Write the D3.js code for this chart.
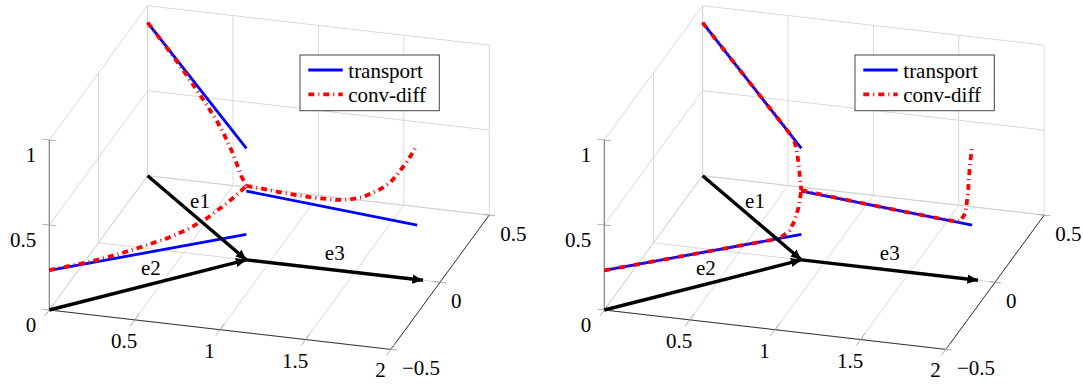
<!DOCTYPE html>
<html>
<head>
<meta charset="utf-8">
<script src="https://cdn.jsdelivr.net/npm/d3@7"></script>
<style>
  html, body { margin: 0; padding: 0; background: #fff; }
</style>
</head>
<body>
<svg id="chart" width="1083" height="386"></svg>
<script>
// axes
const xTicks = [0, 0.5, 1, 1.5, 2];
const yTicks = [-0.5, 0, 0.5];
const zTicks = [0, 0.5, 1];
const xTickLabels = ['', '0.5', '1', '1.5', '2'];
const yTickLabels = ['\u22120.5', '0', '0.5'];
const zTickLabels = ['0', '0.5', '1'];

// network edges, (x, y) on the floor
const edgeNames = ['e1', 'e2', 'e3'];
const edgeStart = [[0, 0.5], [0, -0.5], [0.866, 0]];
const edgeEnd = [[0.866, 0], [0.866, 0], [1.866, 0]];
const arrowEnd = [[0.866, 0], [0.866, 0], [1.9, 0]];

// [position along edge, value]
const transportE1 = [[0, 0.9], [1, 0.656]];
const transportE2 = [[0, 0.233], [1, 0.15]];
const transportE3 = [[0, 0.405], [1, 0.32]];

// conv-diff, left plot
const convLeftE1 = [[0, 0.9], [0.1, 0.875], [0.2, 0.848], [0.3, 0.818], [0.4, 0.785], [0.5, 0.75],
  [0.6, 0.712], [0.7, 0.67], [0.77, 0.63], [0.85, 0.57], [0.9, 0.52], [0.95, 0.467], [1, 0.435]];
const convLeftE2 = [[0, 0.235], [0.2, 0.223], [0.35, 0.225], [0.45, 0.232], [0.6, 0.246], [0.7, 0.267],
  [0.8, 0.304], [0.9, 0.362], [0.95, 0.397], [1, 0.435]];
const convLeftE3 = [[0, 0.435], [0.1, 0.43], [0.2, 0.421], [0.3, 0.415], [0.4, 0.412], [0.53, 0.414],
  [0.6, 0.425], [0.68, 0.447], [0.78, 0.504], [0.84, 0.55], [0.88, 0.6], [0.94, 0.686], [1, 0.79]];

// conv-diff, right plot
const convRightE1 = [[0, 0.9], [0.3, 0.827], [0.6, 0.754], [0.85, 0.693], [0.92, 0.672], [0.95, 0.63],
  [0.97, 0.56], [0.985, 0.48], [1, 0.41]];
const convRightE2 = [[0, 0.233], [0.3, 0.208], [0.6, 0.183], [0.85, 0.162], [0.9, 0.166], [0.94, 0.19],
  [0.965, 0.24], [0.985, 0.31], [1, 0.41]];
const convRightE3 = [[0, 0.41], [0.3, 0.38], [0.6, 0.354], [0.9, 0.33], [0.93, 0.335], [0.96, 0.385],
  [0.975, 0.5], [0.985, 0.65], [1, 0.79]];

const legendLabels = ['transport', 'conv-diff'];

const svg = d3.select('#chart');

const xs = d3.scaleLinear().domain([0, 2]).range([0, 1]);
const ys = d3.scaleLinear().domain([-0.5, 0.5]).range([0, 1]);
const zs = d3.scaleLinear().domain([0, 1]).range([0, 1]);
// screen vectors spanned by the full x, y and z ranges
const vx = [341.6, 39.4], vy = [98.3, -134.3], vz = [0, -170];

function projector(ox, oy) {
  return (x, y, z) => [
    ox + xs(x) * vx[0] + ys(y) * vy[0] + zs(z) * vz[0],
    oy + xs(x) * vx[1] + ys(y) * vy[1] + zs(z) * vz[1],
  ];
}

function alongEdge(i, s) {
  const a = edgeStart[i], b = edgeEnd[i];
  return [a[0] + s * (b[0] - a[0]), a[1] + s * (b[1] - a[1])];
}

const defs = svg.append('defs');
defs.append('marker')
  .attr('id', 'tip')
  .attr('markerUnits', 'userSpaceOnUse')
  .attr('viewBox', '0 -5 11 10')
  .attr('refX', 10.5).attr('refY', 0)
  .attr('markerWidth', 11).attr('markerHeight', 10)
  .attr('orient', 'auto')
  .append('path')
  .attr('d', 'M0,-4.6 L10.5,0 L0,4.6 Z')
  .attr('fill', '#000');

// texts are kept as pending items and written last, straight into the svg
const pending = [];
function label(x, y, anchor, str) {
  pending.push({ x, y, anchor, str });
}
function flushLabels() {
  pending.forEach(d => {
    const t = svg.append('text')
      .attr('x', d.x).attr('y', d.y + 7)
      .attr('style', `font-family:'Liberation Serif';font-size:21px`)
      .text(d.str);
    const w = t.node().getComputedTextLength();
    if (d.anchor === 'middle') t.attr('x', d.x - w / 2);
    if (d.anchor === 'end') t.attr('x', d.x - w);
  });
}

function drawPanel(ox, conv) {
  const P = projector(ox, 310);
  const g = svg.append('g');
  const seg = (a, b, color, w) => {
    const p = P(...a), q = P(...b);
    g.append('line')
      .attr('x1', p[0]).attr('y1', p[1]).attr('x2', q[0]).attr('y2', q[1])
      .attr('stroke', color).attr('stroke-width', w);
  };
  const grid = '#cfcfcf';
  const [x0, x1] = xs.domain(), [y0, y1] = ys.domain(), [z0, z1] = zs.domain();

  // back wall (y = max)
  xTicks.forEach(x => seg([x, y1, z0], [x, y1, z1], grid, 0.8));
  zTicks.forEach(z => seg([x0, y1, z], [x1, y1, z], grid, 0.8));
  // left wall (x = min)
  yTicks.forEach(y => { if (y !== y0) seg([x0, y, z0], [x0, y, z1], grid, 0.8); });
  zTicks.forEach(z => seg([x0, y0, z], [x0, y1, z], grid, 0.8));
  // floor
  xTicks.forEach(x => seg([x, y0, z0], [x, y1, z0], grid, 0.8));
  yTicks.forEach(y => seg([x0, y, z0], [x1, y, z0], grid, 0.8));

  // axis lines
  seg([x0, y0, z0], [x1, y0, z0], '#222', 0.9);
  seg([x1, y0, z0], [x1, y1, z0], '#222', 0.9);
  seg([x0, y0, z0], [x0, y0, z1], '#8a8a8a', 1.3);

  // tick marks
  zTicks.forEach(z => seg([x0 - 0.04, y0, z], [x0 + 0.04, y0, z], '#9a9a9a', 0.8));
  xTicks.forEach(x => seg([x, y0 - 0.045, z0], [x, y0 + 0.045, z0], '#9a9a9a', 0.8));
  yTicks.forEach(y => seg([x1 - 0.035, y, z0], [x1 + 0.035, y, z0], '#9a9a9a', 0.8));

  // tick labels
  zTicks.forEach((z, i) => {
    const p = P(x0, y0, z);
    label(p[0] - 13, p[1] + 15, 'end', zTickLabels[i]);
  });
  xTicks.forEach((x, i) => {
    const p = P(x, y0, z0);
    if (xTickLabels[i]) label(p[0] - 10.5, p[1] + 21, 'middle', xTickLabels[i]);
  });
  yTicks.forEach((y, i) => {
    const p = P(x1, y, z0);
    label(p[0] + 11, p[1] + 19, 'start', yTickLabels[i]);
  });

  // solutions along the edges
  const curve = i => d3.line()
    .x(d => P(...alongEdge(i, d[0]), d[1])[0])
    .y(d => P(...alongEdge(i, d[0]), d[1])[1]);
  [transportE1, transportE2, transportE3].forEach((data, i) => {
    g.append('path').datum(data).attr('d', curve(i))
      .attr('fill', 'none').attr('stroke', '#0000ff').attr('stroke-width', 2.8);
  });
  conv.forEach((data, i) => {
    g.append('path').datum(data).attr('d', curve(i))
      .attr('fill', 'none').attr('stroke', '#ff0000').attr('stroke-width', 3.8)
      .attr('stroke-dasharray', '6 4 1 4');
  });

  // graph edges
  edgeNames.forEach((name, i) => {
    const a = P(...edgeStart[i], 0), b = P(...arrowEnd[i], 0);
    g.append('line')
      .attr('x1', a[0]).attr('y1', a[1]).attr('x2', b[0]).attr('y2', b[1])
      .attr('stroke', '#000').attr('stroke-width', 3.4)
      .attr('marker-end', 'url(#tip)');
    const m = P(...alongEdge(i, 0.5), 0);
    label(m[0] + 3, m[1] - 17, 'middle', name);
  });

  // legend
  const lx = ox + 250.7, ly = 55;
  g.append('rect').attr('x', lx).attr('y', ly).attr('width', 139.3).attr('height', 55.7)
    .attr('fill', '#fff').attr('stroke', '#444').attr('stroke-width', 1);
  legendLabels.forEach((str, i) => {
    const yy = ly + 15 + i * 24.3;
    g.append('line').attr('x1', lx + 8.3).attr('x2', lx + 42.7).attr('y1', yy).attr('y2', yy)
      .attr('stroke', i === 0 ? '#0000ff' : '#ff0000')
      .attr('stroke-width', i === 0 ? 2.8 : 3.8)
      .attr('stroke-dasharray', i === 0 ? null : '6 4 1 4');
    label(lx + 48.3, yy + 1, 'start', str);
  });
}

drawPanel(49.3, [convLeftE1, convLeftE2, convLeftE3]);
drawPanel(604.3, [convRightE1, convRightE2, convRightE3]);
flushLabels();
</script>
</body>
</html>
